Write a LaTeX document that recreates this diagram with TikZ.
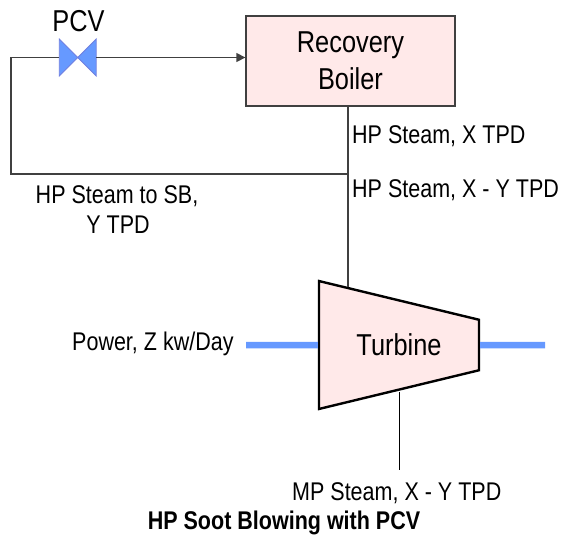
\documentclass[tikz,border=0pt]{standalone}
\usepackage{fontspec}
\setmainfont[FakeStretch=0.84]{Liberation Sans}
\usepackage{xcolor}
\usetikzlibrary{arrows.meta, positioning, calc, shapes.geometric}
\definecolor{plantink}{HTML}{404040}
\definecolor{plantfill}{HTML}{FFE9E9}
\definecolor{plantblue}{HTML}{6699FF}
\definecolor{valveedge}{HTML}{6F7FE0}

\begin{document}
\begin{tikzpicture}[
  x=1pt, y=-1pt,
  unit/.style={
    fill=plantfill,
    inner sep=0pt,
    font=\fontsize{30.2}{37}\selectfont
  },
  boilerbox/.style={unit, draw=plantink, line width=1.3pt, align=center,
    minimum width=209pt, minimum height=90pt},
  turbinebox/.style={unit, draw=black, line width=2.4pt, shape=trapezium,
    shape border rotate=270, trapezium angle=78.7,
    minimum width=128pt, minimum height=160pt, trapezium stretches=true},
  valvebox/.style={inner sep=0pt, minimum size=36.5pt},
  valvebody/.style={fill=plantblue, draw=valveedge, line width=0.8pt},
  tag/.style={font=\fontsize{25.6}{30}\selectfont, inner sep=0pt, anchor=base west},
  bigtag/.style={font=\fontsize{30.2}{37}\selectfont, inner sep=0pt, anchor=base},
  steam/.style={draw=plantink, line width=1.3pt},
  thinsteam/.style={draw=black, line width=1pt},
  flow/.style={steam, -{Triangle[length=9pt,width=9pt]}},
  shaft/.style={draw=plantblue, line width=6.5pt}
]
\useasboundingbox (0,0) rectangle (562,541);

\node[boilerbox] (boiler) at (350.5,61) {Recovery\\Boiler};
\node[turbinebox] (turbine) at (399,345) {Turbine};
\node[valvebox] (pcv) at (77.7,57.5) {};
\draw[valvebody] (pcv.north west) -- (pcv.south east) -- (pcv.north east) -- (pcv.south west) -- cycle;

\coordinate (tee) at (348,174);
\coordinate (corner) at (11,174);
\coordinate (turbinein) at (348,287);
\coordinate (turbineout) at (399,392);
\coordinate (mpend) at (399,470);
\coordinate (powerend) at (246,345);
\coordinate (shaftend) at (545,345);

\draw[steam] (boiler.south -| tee) -- (turbinein);
\draw[steam] (tee) -- (corner) |- (pcv.west);
\draw[flow] (pcv.east) -- (pcv.east -| boiler.west);
\draw[thinsteam] (turbineout) -- (mpend);
\draw[shaft] (powerend) -- (turbine.west);
\draw[shaft] (turbine.east) -- (shaftend);

\node[bigtag] (pcvlabel) at (78.5,31) {PCV};
\node[tag] (hpx) at (352,143) {HP Steam, X TPD};
\node[tag] (hpxy) at (352,197) {HP Steam, X - Y TPD};
\node[tag, anchor=base] (hpsb) at (117,203) {HP Steam to SB,};
\node[tag, anchor=base] (hpy) at (118,233) {Y TPD};
\node[tag] (power) at (72,350) {Power, Z kw/Day};
\node[tag] (mpsteam) at (292,500) {MP Steam, X - Y TPD};
\node[tag, anchor=base, font=\fontsize{25.6}{30}\selectfont\bfseries] (title) at (284,529) {HP Soot Blowing with PCV};

\end{tikzpicture}
\end{document}
